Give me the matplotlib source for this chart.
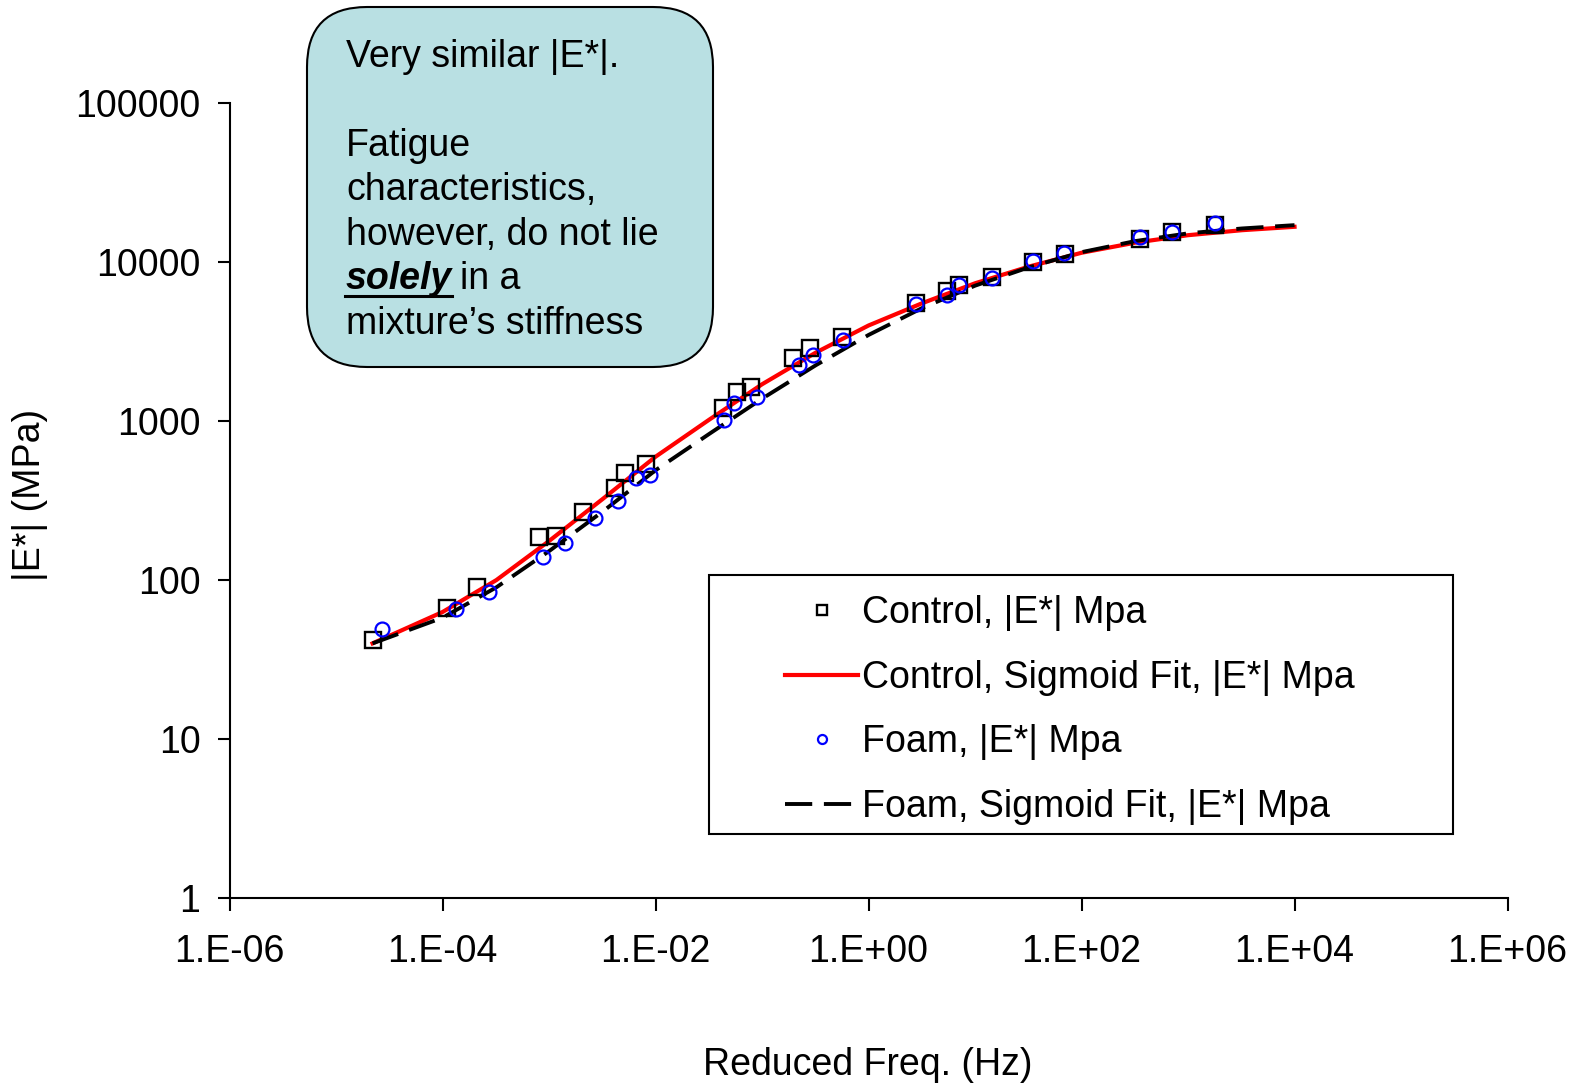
import matplotlib
matplotlib.use('Agg')
import matplotlib.pyplot as plt
from matplotlib.patches import FancyBboxPatch, Rectangle
from matplotlib.transforms import IdentityTransform

plt.rcParams['font.family'] = ['Liberation Sans', 'DejaVu Sans']

# measured points (reduced frequency in Hz, |E*| in MPa)
control_freq = [2.2e-5, 1.1e-4, 2.1e-4, 8.1e-4, 1.15e-3, 2.1e-3, 4.2e-3, 5.2e-3, 8.1e-3,
                0.043, 0.058, 0.079, 0.195, 0.28, 0.56, 2.8, 5.5, 7.1, 14.5,
                35, 70, 355, 710, 1780]
control_e = [42, 67, 91, 186, 190, 268, 380, 470, 540,
             1200, 1510, 1630, 2500, 2870, 3350, 5500, 6600, 7200, 8000,
             10000, 11200, 14000, 15300, 17000]

foam_freq = [2.7e-5, 1.35e-4, 2.75e-4, 8.7e-4, 1.4e-3, 2.7e-3, 4.4e-3, 6.6e-3, 8.9e-3,
             0.044, 0.054, 0.089, 0.22, 0.30, 0.58, 2.8, 5.5, 7.1, 14.5,
             35, 69, 355, 710, 1780]
foam_e = [49, 66, 84, 139, 170, 245, 316, 437, 457,
          1010, 1290, 1410, 2240, 2600, 3230, 5400, 6150, 7150, 7900,
          10100, 11350, 14300, 15500, 17500]

# sigmoid fit curves
fit_freq = [2.2e-5, 1e-4, 3.2e-4, 1e-3, 3.2e-3, 1e-2, 3.2e-2, 0.1, 0.32, 1,
            3.2, 10, 32, 100, 320, 1000, 3200, 1e4]
control_fit = [40, 63, 100, 176, 324, 596, 1020, 1700, 2690, 3980,
               5500, 7330, 9330, 11400, 13200, 14700, 15800, 16600]
foam_fit = [40, 58, 90, 152, 270, 490, 830, 1380, 2240, 3470,
            5130, 7080, 9230, 11500, 13500, 15100, 16200, 17000]

x_ticks = [1e-6, 1e-4, 1e-2, 1e0, 1e2, 1e4, 1e6]
x_tick_labels = ['1.E-06', '1.E-04', '1.E-02', '1.E+00', '1.E+02', '1.E+04', '1.E+06']
y_ticks = [1, 10, 100, 1000, 10000, 100000]
y_tick_labels = ['1', '10', '100', '1000', '10000', '100000']

W, H = 1579, 1084
fig = plt.figure(figsize=(W / 100, H / 100), dpi=100)
ax = fig.add_axes([229.6 / W, 1 - 898.3 / H, (1507.5 - 229.6) / W, (898.3 - 102.7) / H])

ax.plot(fit_freq, control_fit, color='#ff0000', lw=3, zorder=2,
        label='Control, Sigmoid Fit, |E*| Mpa')
ax.plot(fit_freq, foam_fit, color='black', lw=2.8, dashes=(7, 3), zorder=3,
        label='Foam, Sigmoid Fit, |E*| Mpa')
ax.plot(control_freq, control_e, ls='none', marker='s', ms=11, mfc='none', mec='black',
        mew=1.7, zorder=4, label='Control, |E*| Mpa')
ax.plot(foam_freq, foam_e, ls='none', marker='o', ms=10, mfc='none', mec='#0000ff',
        mew=1.6, zorder=5, label='Foam, |E*| Mpa')

ax.set_xscale('log')
ax.set_yscale('log')
ax.set_xlim(1e-6, 1e6)
ax.set_ylim(1, 100000)
ax.set_xticks(x_ticks)
ax.set_xticklabels(x_tick_labels)
ax.set_yticks(y_ticks)
ax.set_yticklabels(y_tick_labels)
ax.minorticks_off()
ax.tick_params(axis='both', labelsize=27, length=9, width=1.5, direction='out')
ax.tick_params(axis='x', pad=17)
ax.tick_params(axis='y', pad=12)
for side in ['top', 'right']:
    ax.spines[side].set_visible(False)
for side in ['left', 'bottom']:
    ax.spines[side].set_linewidth(1.5)

# legend in Excel order, frame drawn separately (Excel box is wider than its text)
px = IdentityTransform()
ax.add_patch(Rectangle((709, H - 834), 744, 259, transform=px, facecolor='white',
                       edgecolor='black', lw=1.5, zorder=7, clip_on=False))
h, l = ax.get_legend_handles_labels()
order = [2, 0, 3, 1]
leg = ax.legend([h[i] for i in order], [l[i] for i in order], loc='upper left',
                bbox_to_anchor=((785 - 229.6) / 1277.9, 0.381), fontsize=27, frameon=False,
                markerscale=0.65, handlelength=1.95, handletextpad=0.1,
                labelspacing=0.76, borderpad=0, borderaxespad=0)
leg.set_zorder(8)

fig.text(868 / W, 1 - 1065 / H, 'Reduced Freq. (Hz)', fontsize=27, ha='center', va='center')
fig.text(30 / W, 1 - 495 / H, '|E*| (MPa)', fontsize=27, rotation=90, ha='center', va='center')

# annotation box
box = FancyBboxPatch((307, H - 367), 406, 360, boxstyle='round,pad=0,rounding_size=60',
                     transform=px, facecolor='#b9e0e3', edgecolor='black', lw=1.5)
fig.add_artist(box)

tx = 346
lines = [(67, 'Very similar |E*|.'), (156, 'Fatigue'), (200, 'characteristics,'),
         (245, 'however, do not lie')]
for yb, s in lines:
    fig.text(tx, H - yb, s, fontsize=27, transform=px, va='baseline', ha='left')
sol = fig.text(tx, H - 289, 'solely', fontsize=27, transform=px, va='baseline', ha='left',
               fontweight='bold', fontstyle='italic')
fig.canvas.draw()
bb = sol.get_window_extent()
fig.text(bb.x1 + 8, H - 289, 'in a', fontsize=27, transform=px, va='baseline', ha='left')
fig.add_artist(plt.Line2D([tx - 1, bb.x1], [H - 296, H - 296], color='black', lw=2.2,
                          transform=px))
fig.text(tx, H - 334, 'mixture\u2019s stiffness', fontsize=27, transform=px,
         va='baseline', ha='left')

fig.savefig('out.png', dpi=100)
